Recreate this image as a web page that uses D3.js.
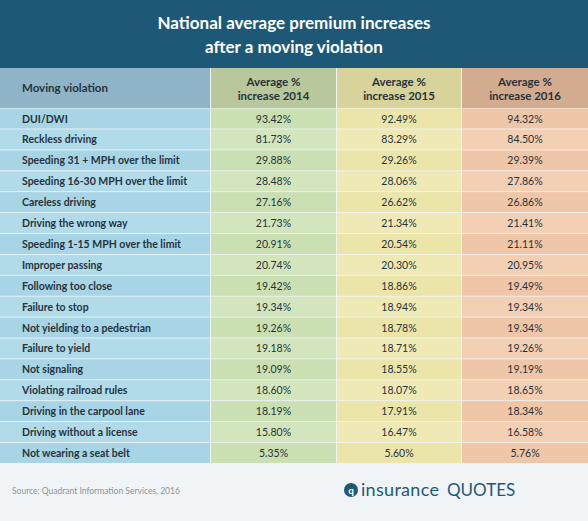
<!DOCTYPE html>
<html><head><meta charset="utf-8">
<script src="https://cdn.jsdelivr.net/npm/d3@7"></script>
<style>body{margin:0;background:#f1f4f7;font-family:Lato,"Open Sans",sans-serif}</style>
</head><body><div id="chart"></div>
<script>
const title = ["National average premium increases", "after a moving violation"];
const headers = ["Moving violation", "Average %|increase 2014", "Average %|increase 2015", "Average %|increase 2016"];
const violations = ["DUI/DWI","Reckless driving","Speeding 31 + MPH over the limit","Speeding 16-30 MPH over the limit","Careless driving","Driving the wrong way","Speeding 1-15 MPH over the limit","Improper passing","Following too close","Failure to stop","Not yielding to a pedestrian","Failure to yield","Not signaling","Violating railroad rules","Driving in the carpool lane","Driving without a license","Not wearing a seat belt"];
const v2014 = ["93.42%","81.73%","29.88%","28.48%","27.16%","21.73%","20.91%","20.74%","19.42%","19.34%","19.26%","19.18%","19.09%","18.60%","18.19%","15.80%","5.35%"];
const v2015 = ["92.49%","83.29%","29.26%","28.06%","26.62%","21.34%","20.54%","20.30%","18.86%","18.94%","18.78%","18.71%","18.55%","18.07%","17.91%","16.47%","5.60%"];
const v2016 = ["94.32%","84.50%","29.39%","27.86%","26.86%","21.41%","21.11%","20.95%","19.49%","19.34%","19.34%","19.26%","19.19%","18.65%","18.34%","16.58%","5.76%"];
const headColors = ["#8fb4c7","#b8c79c","#d8d39b","#d3ac90"];
const bodyColors = [["#a8d5e6","#b2dbea"],["#cadfb2","#d3e5bd"],["#ebe5a9","#efeab5"],["#efc6a7","#f3cfb3"]];

const W = 588, H = 521;
const svg = d3.select("#chart").append("svg").attr("width", W).attr("height", H);

svg.append("rect").attr("width", W).attr("height", 68).attr("fill", "#1d5877");
svg.append("text").attr("x", W/2).attr("y", 29).attr("text-anchor","middle")
  .attr("fill","#fff").attr("font-size",17).attr("font-weight",700)
  .selectAll("tspan").data(title).join("tspan").attr("x", W/2).attr("dy",(d,i)=>i?24:0).text(d=>d);

const x = d3.scaleOrdinal().domain([0,1,2,3]).range([0,211,337,462]);
const cw = [210,125,124,126];
const y = d3.scaleBand().domain(violations).range([108.5,463]).paddingInner(0.04);

// header
const hg = svg.append("g");
headers.forEach((h,i)=>{
  hg.append("rect").attr("x",x(i)).attr("y",68).attr("width",cw[i]).attr("height",40).attr("fill",headColors[i]);
  const parts = h.split("|");
  const t = hg.append("text").attr("fill","#26333b").attr("font-size",11.5).attr("font-weight",700)
    .attr("text-anchor", i? "middle":"start");
  const tx = i ? x(i)+cw[i]/2 : 22;
  if (parts.length === 1) t.attr("x",tx).attr("y",92).text(h);
  else parts.forEach((p,k)=>t.append("tspan").attr("x",tx).attr("y",86+k*14).text(p));
});

const rows = svg.append("g").selectAll("g").data(violations).join("g")
  .attr("transform", d=>`translate(0,${y(d)})`);
const cols = [violations, v2014, v2015, v2016];
cols.forEach((arr,i)=>{
  rows.append("rect").attr("x",x(i)).attr("width",cw[i]).attr("height",y.bandwidth())
    .attr("fill",(d,r)=>bodyColors[i][r%2]);
  rows.append("text").attr("x", i? x(i)+cw[i]/2 : 22).attr("y", y.bandwidth()/2+4)
    .attr("text-anchor", i? "middle":"start").attr("fill","#26333b")
    .attr("font-size", i?10.5:10.5).attr("font-weight", i?400:700)
    .text((d,r)=>arr[r]);
});

svg.append("text").attr("x",12).attr("y",494).attr("fill","#8a949b").attr("font-size",8.5)
  .text("Source: Quadrant Information Services, 2016");
svg.append("circle").attr("cx",351).attr("cy",490).attr("r",7).attr("fill","#1d5877");
svg.append("text").attr("x",351).attr("y",494).attr("text-anchor","middle").attr("fill","#fff")
  .attr("font-size",10).attr("font-weight",700).text("q");
svg.append("text").attr("x",361).attr("y",496).attr("fill","#1d5877").attr("font-size",18)
  .attr("letter-spacing",0.3).text("insurance");
svg.append("text").attr("x",447).attr("y",496).attr("fill","#1d5877").attr("font-size",17)
  .text("QUOTES");
</script></body></html>
